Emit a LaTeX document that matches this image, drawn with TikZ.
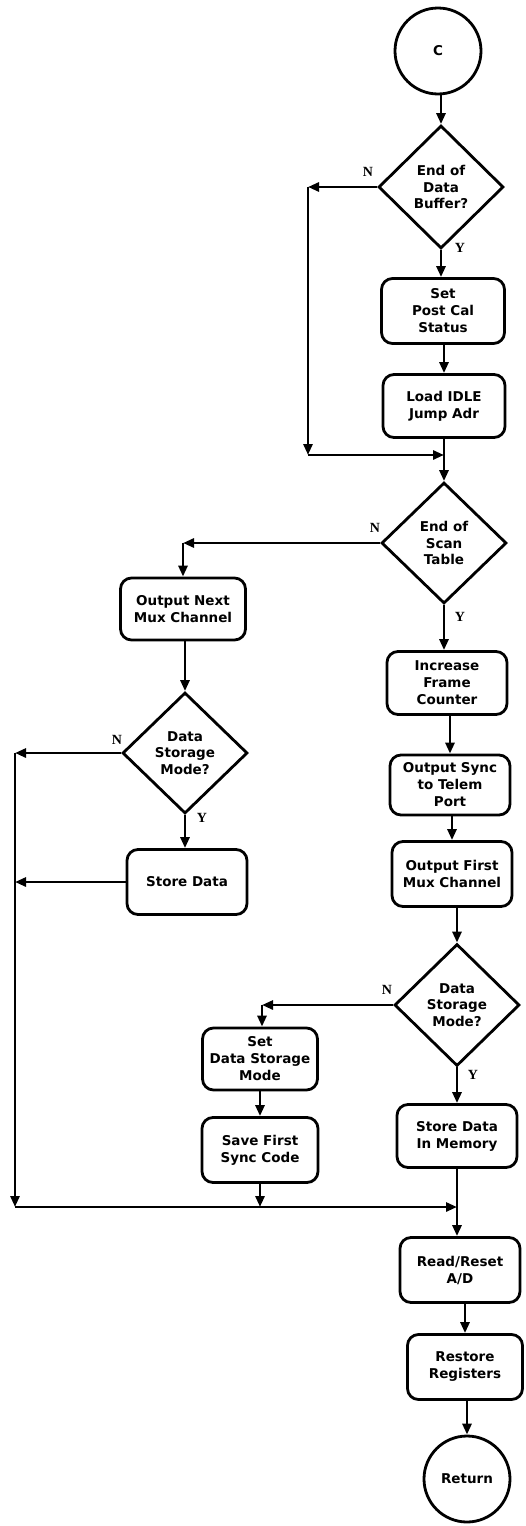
\documentclass[tikz,border=0pt]{standalone}
\usepackage{fontspec}
\setmainfont{DejaVu Sans}
\newfontfamily\ynfont{Liberation Serif}
\usetikzlibrary{shapes.geometric,arrows.meta}

\begin{document}
\begin{tikzpicture}[x=1pt,y=-1pt,
  line width=2.8pt,
  arr/.style={-{Triangle[length=11pt,width=9pt]}},
  txt/.style={font=\bfseries\fontsize{13.5}{17}\selectfont},
  box/.style={txt, draw, rounded corners=11pt, align=center, inner sep=0pt},
  dec/.style={draw, diamond, aspect=1, align=center, inner sep=0pt,
    font=\bfseries\fontsize{13.5}{16.5}\selectfont},
  term/.style={txt, draw, circle, inner sep=0pt, minimum size=86pt},
  yn/.style={font=\ynfont\bfseries\fontsize{14}{14}\selectfont}
]
\useasboundingbox (0,0) rectangle (526,1526);

% ---- main column ----
\node[term] (start) at (438,51) {C};
\node[dec, minimum width=125pt, minimum height=123pt] (d1) at (441,187) {End of\\Data\\Buffer?};
\node[box, minimum width=123pt, minimum height=65pt] (b1) at (443,311) {Set\\Post Cal\\Status};
\node[box, minimum width=122pt, minimum height=63pt] (b2) at (444,406) {Load IDLE\\Jump Adr};
\coordinate (j1) at (444,455);
\coordinate (k1) at (308,187);
\coordinate (k2) at (308,455);

\node[dec, minimum width=125pt, minimum height=121pt] (d2) at (444,543) {End of\\Scan\\Table};
\node[box, minimum width=120pt, minimum height=63pt] (b5) at (447,683) {Increase\\Frame\\Counter};
\node[box, minimum width=120pt, minimum height=60pt] (b6) at (450,785) {Output Sync\\to Telem\\Port};
\node[box, minimum width=120pt, minimum height=65pt] (b7) at (452,874) {Output First\\Mux Channel};
\node[dec, minimum width=125pt, minimum height=122pt] (d4) at (457,1005) {Data\\Storage\\Mode?};
\node[box, minimum width=120pt, minimum height=63pt] (b10) at (457,1136) {Store Data\\In Memory};
\coordinate (j2) at (457,1207);
\node[box, minimum width=120pt, minimum height=65pt] (b11) at (460,1270) {Read/Reset\\A/D};
\node[box, minimum width=115pt, minimum height=65pt] (b12) at (465,1367) {Restore\\Registers};
\node[term] (ret) at (467,1479) {Return};

% ---- left branch ----
\coordinate (k3) at (183,543);
\node[box, minimum width=125pt, minimum height=62pt] (b3) at (183,609) {Output Next\\Mux Channel};
\node[dec, minimum width=125pt, minimum height=121pt] (d3) at (185,753) {Data\\Storage\\Mode?};
\node[box, minimum width=120pt, minimum height=65pt] (b4) at (187,882) {Store Data};
\coordinate (k4) at (15,753);
\coordinate (k5) at (15,882);
\coordinate (k6) at (15,1207);

% ---- middle branch ----
\coordinate (k7) at (262,1005);
\node[box, minimum width=115pt, minimum height=62pt] (b8) at (260,1059) {Set\\Data Storage\\Mode};
\node[box, minimum width=116pt, minimum height=65pt] (b9) at (260,1150) {Save First\\Sync Code};
\coordinate (k8) at (260,1207);

% ---- branch labels ----
\node[yn] (n1) at (368,172) {N};
\node[yn] (y1) at (460,248) {Y};
\node[yn] (n2) at (375,528) {N};
\node[yn] (y2) at (460,617) {Y};
\node[yn] (n3) at (117,740) {N};
\node[yn] (y3) at (202,818) {Y};
\node[yn] (n4) at (387,990) {N};
\node[yn] (y4) at (473,1075) {Y};

% ---- connectors ----
\draw[arr] (start.south -| d1.north) -- (d1.north);
\draw[arr] (d1.south) -- (d1.south |- b1.north);
\draw[arr] (b1.south -| b2.north) -- (b2.north);
\draw[arr] (d1.west) -- (k1);
\draw[arr] (k1) -- (k2);
\draw[arr] (k2) -- (j1);
\draw (b2.south) -- (j1);
\draw[arr] (j1) -- (d2.north);

\draw[arr] (d2.west) -- (k3);
\draw[arr] (k3) -- (b3.north);
\draw[arr] (b3.south -| d3.north) -- (d3.north);
\draw[arr] (d3.south) -- (d3.south |- b4.north);
\draw[arr] (d3.west) -- (k4);
\draw[arr] (k4) -- (k6);
\draw[arr] (b4.west) -- (k5);
\draw[arr] (k6) -- (j2);

\draw[arr] (d2.south) -- (d2.south |- b5.north);
\draw[arr] (b5.south -| b6.north) -- (b6.north);
\draw[arr] (b6.south -| b7.north) -- (b7.north);
\draw[arr] (b7.south -| d4.north) -- (d4.north);
\draw[arr] (d4.west) -- (k7);
\draw[arr] (k7) -- (k7 |- b8.north);
\draw[arr] (b8.south) -- (b9.north);
\draw[arr] (b9.south) -- (k8);
\draw[arr] (d4.south) -- (d4.south |- b10.north);
\draw (b10.south) -- (j2);
\draw[arr] (j2) -- (j2 |- b11.north);
\draw[arr] (b11.south -| b12.north) -- (b12.north);
\draw[arr] (b12.south -| ret.north) -- (ret.north);
\end{tikzpicture}
\end{document}
